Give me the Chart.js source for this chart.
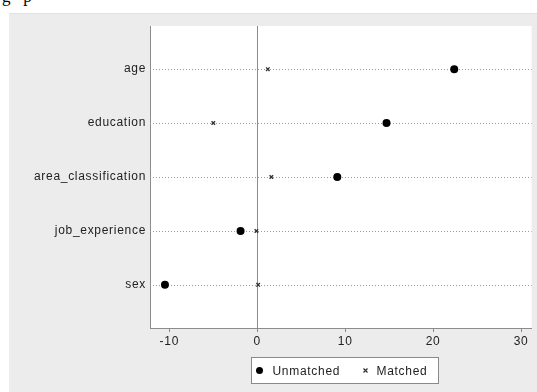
<!DOCTYPE html>
<html><head><meta charset="utf-8">
<script src="https://cdn.jsdelivr.net/npm/chart.js@4/dist/chart.umd.min.js"></script>
<style>
html,body{margin:0;padding:0;background:#fff;width:537px;height:392px;overflow:hidden;}
#cap{position:absolute;left:2px;top:-13px;font-family:"Liberation Serif",serif;font-size:17px;color:#000;white-space:pre;}
#frame{position:absolute;left:9px;top:13px;width:528px;height:379px;background:#ececec;border-top:1px solid #e2e2e2;box-sizing:border-box;}
canvas{position:absolute;left:0;top:0;}
</style></head>
<body>
<div id="cap">g   p</div>
<div id="frame"><canvas id="c" width="528" height="378"></canvas></div>
<script>
const categories = ["age","education","area_classification","job_experience","sex"];
const unmatched = [22.4, 14.7, 9.1, -1.9, -10.5];
const matched = [1.2, -5.0, 1.6, -0.1, 0.1];
const xTicks = [-10, 0, 10, 20, 30];
const seriesNames = ["Unmatched", "Matched"];

const toPts = arr => arr.map((v,i)=>({x:v, y:i+1}));
const FONT = '"Liberation Sans", Arial, sans-serif';

const bgPlugin = {
  id:'bg',
  beforeDraw(chart){
    const {ctx, chartArea:a} = chart;
    ctx.letterSpacing = '0.7px';
    ctx.save(); ctx.fillStyle='#fff'; ctx.fillRect(a.left,a.top,a.right-a.left,a.bottom-a.top); ctx.restore();
  },
  beforeDatasetsDraw(chart){
    const {ctx, chartArea:a, scales} = chart;
    ctx.save();
    ctx.strokeStyle='#9a9a9a'; ctx.lineWidth=1; ctx.setLineDash([1,2]);
    categories.forEach((c,i)=>{
      const y=Math.round(scales.y.getPixelForValue(i+1))+0.5;
      ctx.beginPath(); ctx.moveTo(a.left,y); ctx.lineTo(a.right,y); ctx.stroke();
    });
    ctx.restore();
  },
  afterDraw(chart){
    const {ctx, chartArea:a} = chart;
    const w=187, h=26;
    const x0=Math.round(a.left+101)+0.5, y0=Math.round(a.bottom+29)+0.5;
    ctx.save();
    ctx.fillStyle='#fff'; ctx.fillRect(x0,y0,w,h);
    ctx.strokeStyle='#8a8a8a'; ctx.lineWidth=1; ctx.strokeRect(x0,y0,w,h);
    const my=y0+h/2;
    ctx.fillStyle='#000';
    ctx.beginPath(); ctx.arc(x0+8,my,3.5,0,Math.PI*2); ctx.fill();
    ctx.font='12px ' + FONT;
    ctx.fillStyle='#222'; ctx.textBaseline='middle';
    ctx.fillText(seriesNames[0], x0+21, my+1);
    ctx.strokeStyle='#333'; ctx.lineWidth=1.3;
    const mx=x0+114;
    ctx.beginPath(); ctx.moveTo(mx-2,my-2); ctx.lineTo(mx+2,my+2); ctx.moveTo(mx+2,my-2); ctx.lineTo(mx-2,my+2); ctx.stroke();
    ctx.fillText(seriesNames[1], x0+125, my+1);
    ctx.restore();
  }
};

new Chart(document.getElementById('c'), {
  type:'scatter',
  data:{datasets:[
    {label:seriesNames[0], data:toPts(unmatched), pointStyle:'circle', radius:4, backgroundColor:'#000', borderColor:'#000', borderWidth:0},
    {label:seriesNames[1], data:toPts(matched), pointStyle:'crossRot', radius:2.5, borderColor:'#333', backgroundColor:'#333', borderWidth:1.4}
  ]},
  options:{
    responsive:false, animation:false, devicePixelRatio:1,
    layout:{padding:{top:12,right:3,left:0,bottom:0}},
    plugins:{legend:{display:false}, tooltip:{enabled:false}},
    scales:{
      x:{type:'linear', min:-12.2, max:31.2,
        afterBuildTicks:s=>{s.ticks=xTicks.map(v=>({value:v}));},
        afterFit:s=>{s.height=64;},
        grid:{color:c=>c.tick && c.tick.value===0 ? '#8c8c8c' : 'rgba(0,0,0,0)', tickColor:'#8c8c8c', tickLength:4, lineWidth:1},
        border:{color:'#8c8c8c', width:1},
        ticks:{color:'#222', font:{family:FONT, size:12}, padding:2, maxRotation:0}
      },
      y:{type:'linear', reverse:true, min:0.2, max:5.8,
        afterBuildTicks:s=>{s.ticks=categories.map((c,i)=>({value:i+1}));},
        afterFit:s=>{s.width=141;},
        grid:{display:false, drawTicks:false},
        border:{color:'#8c8c8c', width:1},
        ticks:{color:'#222', font:{family:FONT, size:12}, padding:4,
          callback:v=>categories[Math.round(v)-1]}
      }
    }
  },
  plugins:[bgPlugin]
});
</script>
</body></html>
